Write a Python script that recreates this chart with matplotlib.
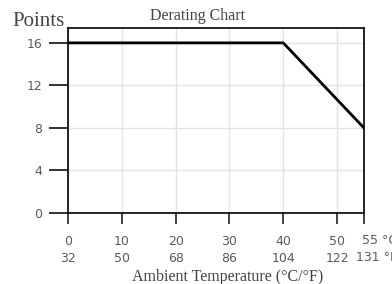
import matplotlib
matplotlib.use("Agg")
import matplotlib.pyplot as plt
import matplotlib.transforms as mtransforms

temp_c = [0, 40, 55]
points = [16, 16, 8]
xticks_c = [0, 10, 20, 30, 40, 50]
xticks_f = [32, 50, 68, 86, 104, 122]
yticks = [0, 4, 8, 12, 16]
last_c, last_f = 55, 131

W, H = 392, 284
fig = plt.figure(figsize=(W/100, H/100), dpi=100)
ax = fig.add_axes([68/W, 1-213/H, (364-68)/W, (213-28)/H])

ax.plot(temp_c, points, color="black", lw=2, solid_joinstyle="miter", zorder=3)
ax.set_xlim(0, 55)
ax.set_ylim(0, 17.4)

ax.set_xticks(xticks_c + [last_c])
ax.set_xticklabels([f"{c}\n{f}" for c, f in zip(xticks_c, xticks_f)] + [""],
                   linespacing=1.45)
ax.set_yticks(yticks)
ax.grid(True, color="#e3e3e3", lw=1)
ax.set_axisbelow(True)
for s in ax.spines.values():
    s.set_color("black")
    s.set_linewidth(1.2)
ax.tick_params(axis="x", length=8, width=1.3, color="#333", pad=7.5, labelsize=9, labelcolor="#5a5a5a")
ax.tick_params(axis="y", length=13.5, width=1.3, color="#222", pad=5, labelsize=9, labelcolor="#5a5a5a")

trans = mtransforms.blended_transform_factory(ax.transData, ax.transAxes)
ax.annotate(f"{last_c} \u00b0C\n{last_f} \u00b0F", xy=(last_c, 0), xycoords=trans,
            xytext=(-6, -15), textcoords="offset points", ha="left", va="top",
            multialignment="right", fontsize=9, color="#5a5a5a", annotation_clip=False,
            linespacing=1.45)

serif = "Liberation Serif"
fig.text(197/W, 1-20/H, "Derating Chart", family=serif, fontsize=11.5, color="#444",
         ha="center", va="baseline")
fig.text(12/W, 1-26/H, "Points", family=serif, fontsize=15, color="#444", va="baseline")
fig.text(228/W, 1-281/H, "Ambient Temperature (\u00b0C/\u00b0F)", family=serif, fontsize=11.5,
         color="#444", ha="center", va="baseline")

fig.savefig("out.png", dpi=100)
